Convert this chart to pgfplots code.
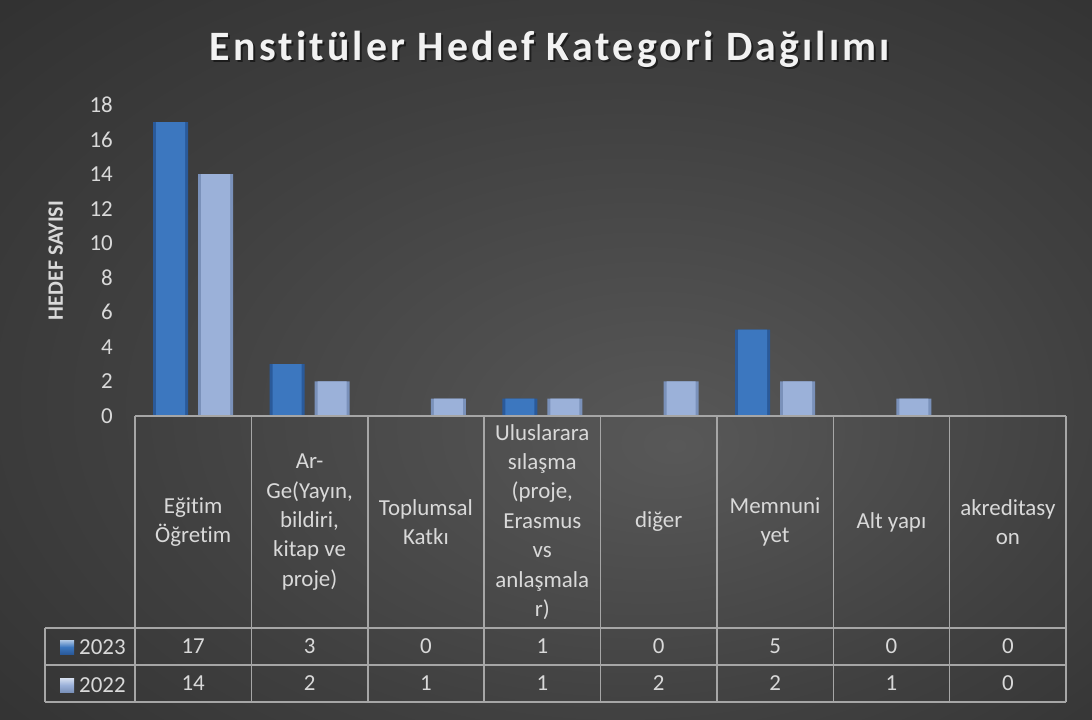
\documentclass[border=0pt]{standalone}
\usepackage{fontspec}
\setmainfont{Carlito}[Ligatures={NoCommon}]
\usepackage{pgfplots}
\usepackage{pgfplotstable}
\pgfplotsset{compat=1.18}
\definecolor{bgin}{HTML}{585858}
\definecolor{bgmid}{HTML}{404040}
\definecolor{bgout}{HTML}{262626}
\definecolor{lbl}{HTML}{D9D9D9}
\definecolor{grid}{HTML}{A6A6A6}
\definecolor{ca}{HTML}{3C77BF}
\definecolor{cad}{HTML}{2A5A9A}
\definecolor{cb}{HTML}{9BB1D9}
\definecolor{cbd}{HTML}{7A91BA}
\pgfdeclareradialshading{bgshade}{\pgfpoint{6bp}{-6bp}}{color(0bp)=(bgin); color(22bp)=(bgmid); color(50bp)=(bgout)}
\pgfplotstableread{
x v23 v22
0 17 14
1 3 2
2 0 1
3 1 1
4 0 2
5 5 2
6 0 1
7 0 0
}\data
\begin{document}
\begin{tikzpicture}
\shade[shading=bgshade] (0,0) rectangle (1092bp,-720bp);
\node[text=black, opacity=0.5, font=\fontsize{42}{50}\selectfont\bfseries\addfontfeature{LetterSpace=7.5}] at (552bp,-51bp) {Enstitüler Hedef Kategori Dağılımı};
\node[text=white!95!black, font=\fontsize{42}{50}\selectfont\bfseries\addfontfeature{LetterSpace=7.5}] at (550bp,-49bp) {Enstitüler Hedef Kategori Dağılımı};
\begin{axis}[
  at={(135bp,-416bp)}, anchor=south west,
  x=116.375bp, y=17.28bp,
  xmin=-0.5, xmax=7.5, ymin=0, ymax=18,
  axis line style={draw=none},
  major tick length=0pt,
  clip=false,
  ytick={0,2,...,18},
  xtick={0,...,7},
  xticklabels={{Eğitim\\Öğretim},{Ar-\\Ge(Yayın,\\bildiri,\\kitap ve\\proje)},{Toplumsal\\Katkı},{Uluslarara\\sılaşma\\(proje,\\Erasmus\\vs\\anlaşmala\\r)},{diğer},{Memnuni\\yet},{Alt yapı},{akreditasy\\on}},
  /pgf/number format/assume math mode=true,
  tick label style={font=\fontsize{23}{29.5}\selectfont, text=lbl},
  yticklabel style={anchor=east, inner sep=0pt, xshift=-22bp},
  xticklabel style={anchor=center, align=center, inner sep=0pt, yshift=-106bp},
  ylabel={HEDEF SAYISI},
  ylabel style={at={(axis description cs:-0.085,0.5)}, anchor=center, font=\fontsize{22}{26}\selectfont\bfseries, text=lbl},
]
\addplot[ybar, bar width=35bp, bar shift=-22.5bp, draw=none, fill=cad, restrict y to domain=0.01:100] table[x=x,y=v23]{\data};
\addplot[ybar, bar width=29bp, bar shift=-22.5bp, draw=none, fill=ca, restrict y to domain=0.01:100] table[x=x,y=v23]{\data};
\addplot[ybar, bar width=35bp, bar shift=22.5bp, draw=none, fill=cbd, restrict y to domain=0.01:100] table[x=x,y=v22]{\data};
\addplot[ybar, bar width=29bp, bar shift=22.5bp, draw=none, fill=cb, restrict y to domain=0.01:100] table[x=x,y=v22]{\data};
% table grid
\draw[grid, line width=1.5bp] (axis cs:-0.5,0) -- (axis cs:7.5,0);
\draw[grid, line width=1.5bp] (axis cs:-1.273,-12.27) -- (axis cs:7.5,-12.27);
\draw[grid, line width=1.5bp] (axis cs:-1.273,-14.41) -- (axis cs:7.5,-14.41);
\draw[grid, line width=1.5bp] (axis cs:-1.273,-16.55) -- (axis cs:7.5,-16.55);
\draw[grid, line width=1.5bp] (axis cs:-1.273,-12.27) -- (axis cs:-1.273,-16.55);
\pgfplotsinvokeforeach{-0.5,0.5,1.5,2.5,3.5,4.5,5.5,6.5,7.5}{
  \draw[grid, line width=1.5bp] (axis cs:#1,0) -- (axis cs:#1,-16.55);
}
% table values
\addplot[only marks, mark=none, nodes near coords, point meta=explicit,
  nodes near coords align={center},
  every node near coord/.append style={anchor=center, font=\fontsize{23}{29.5}\selectfont, text=lbl, /pgf/number format/assume math mode=true}]
  table[x=x, y expr=-13.34, meta=v23]{\data};
\addplot[only marks, mark=none, nodes near coords, point meta=explicit,
  nodes near coords align={center},
  every node near coord/.append style={anchor=center, font=\fontsize{23}{29.5}\selectfont, text=lbl, /pgf/number format/assume math mode=true}]
  table[x=x, y expr=-15.48, meta=v22]{\data};
\end{axis}
% legend keys in table
\shade[top color=ca!40!white, bottom color=cad, middle color=ca] (60bp,-640bp) rectangle (74bp,-654bp);
\node[anchor=west, inner sep=0pt, text=lbl, font=\fontsize{23}{29.5}\selectfont] at (79bp,-647bp) {2023};
\shade[top color=cb!40!white, bottom color=cbd, middle color=cb] (60bp,-678bp) rectangle (74bp,-692bp);
\node[anchor=west, inner sep=0pt, text=lbl, font=\fontsize{23}{29.5}\selectfont] at (79bp,-685bp) {2022};
\pgfresetboundingbox
\path (0,0) rectangle (1092bp,-720bp);
\end{tikzpicture}
\end{document}
